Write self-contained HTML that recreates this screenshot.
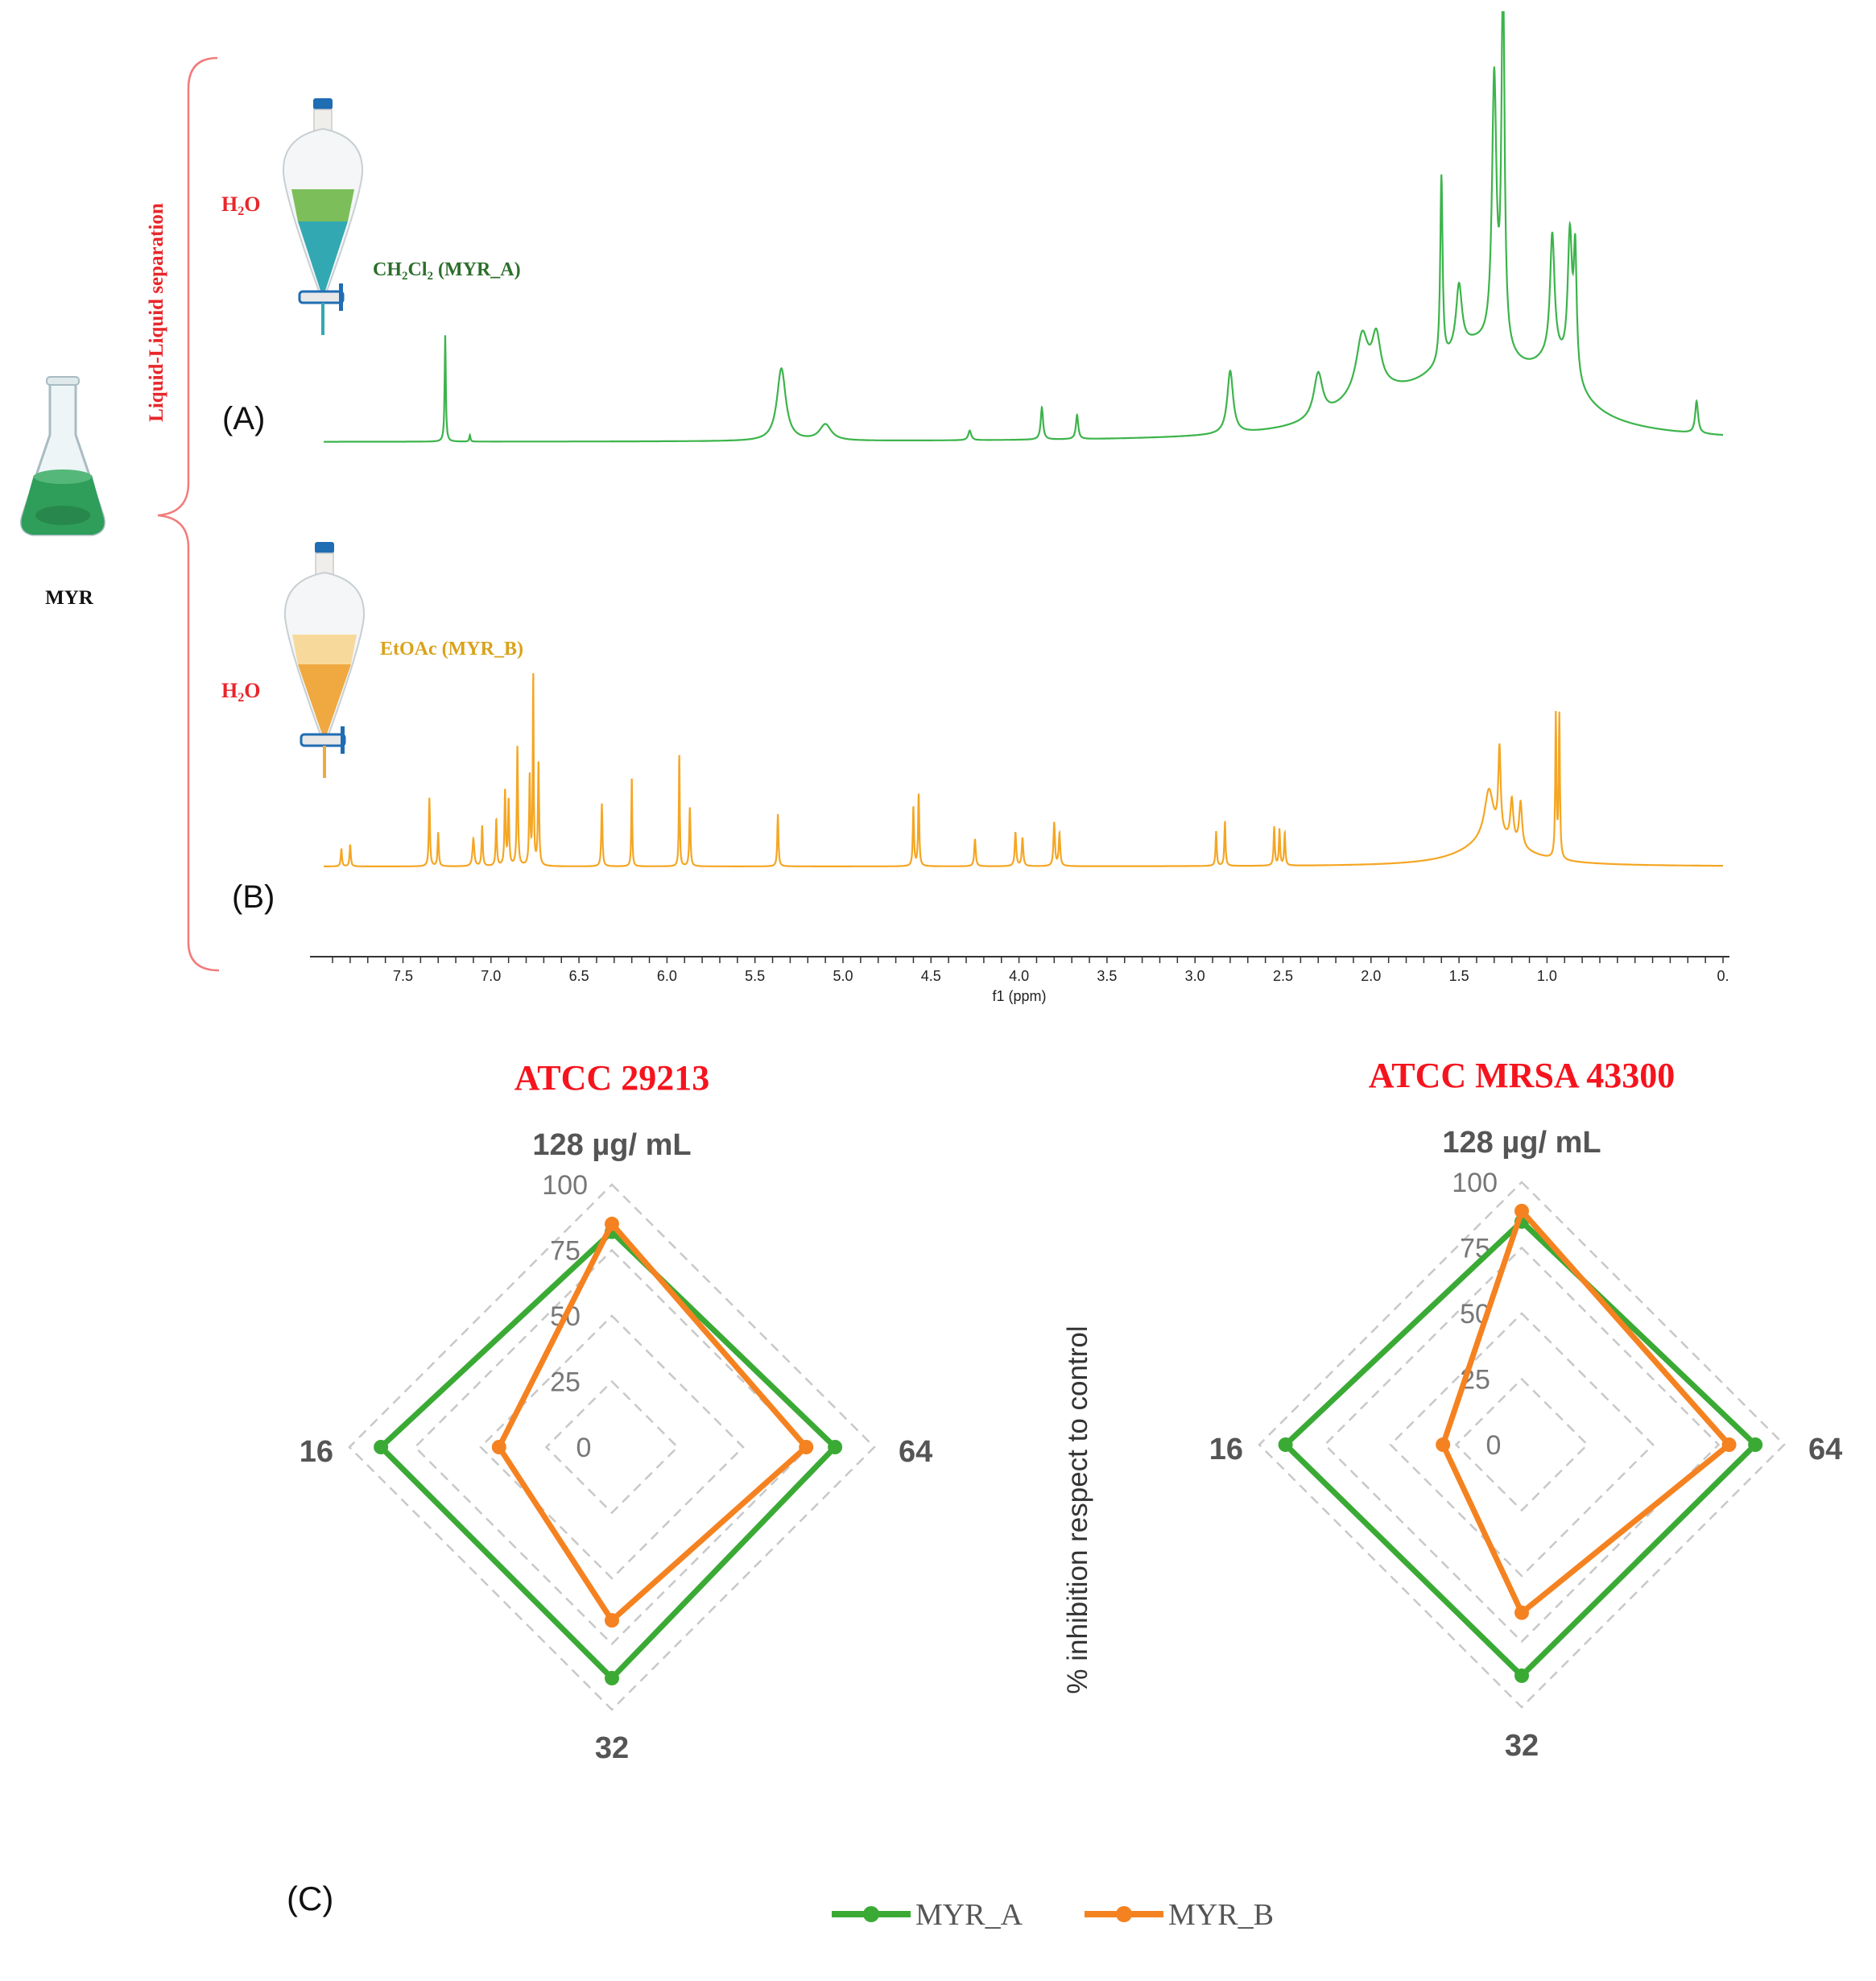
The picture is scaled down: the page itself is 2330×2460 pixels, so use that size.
<!DOCTYPE html>
<html><head><meta charset="utf-8"><style>
html,body{margin:0;padding:0;background:#fff;}
svg{display:block;}
</style></head><body>
<svg id="fig" width="2330" height="2460" viewBox="0 0 2330 2460" xmlns="http://www.w3.org/2000/svg">
  <g>
    <path d="M62 475 L94 475 L94 540 L128 640 Q134 660 115 664 L40 664 Q22 660 28 640 L62 540 Z" fill="#eef5f7" stroke="#a9bcc2" stroke-width="3"/>
    <rect x="58" y="468" width="40" height="10" rx="4" fill="#dfe9ec" stroke="#a9bcc2" stroke-width="2"/>
    <path d="M42 590 L114 590 L128 640 Q134 660 115 664 L40 664 Q22 660 28 640 Z" fill="#2e9e5a"/>
    <ellipse cx="78" cy="592" rx="36" ry="9" fill="#55b87a"/>
    <ellipse cx="78" cy="640" rx="34" ry="12" fill="#28874c"/>
  </g>
  <text x="86" y="750" font-family="Liberation Serif, serif" font-size="25" font-weight="bold" text-anchor="middle" fill="#111">MYR</text>
  <path d="M270 72 Q234 72 234 110 L234 600 Q234 637 196 640 Q234 643 234 680 L234 1170 Q234 1205 272 1205" fill="none" stroke="#f27b7b" stroke-width="2.5"/>
  <text transform="translate(202,388) rotate(-90)" font-family="Liberation Serif, serif" font-size="25" font-weight="bold" fill="#e8262a" text-anchor="middle">Liquid-Liquid separation</text>

  <g>
    <rect x="389" y="122" width="24" height="14" rx="3" fill="#1f6db3"/>
    <rect x="390" y="136" width="22" height="26" fill="#f0eeea" stroke="#ccc" stroke-width="1.5"/>
    <path d="M401 160 Q350 170 352 215 Q355 250 401 375 Q447 250 450 215 Q452 170 401 160 Z" fill="#f4f6f7" stroke="#c8cfd2" stroke-width="2"/>
    <path d="M362 235 L440 235 L432 275 L370 275 Z" fill="#7cbf5a"/>
    <path d="M370 275 L432 275 L401 370 Z" fill="#32a8b2"/>
    <rect x="372" y="362" width="54" height="14" rx="4" fill="#e8e8e8" stroke="#1f6db3" stroke-width="3"/>
    <rect x="421" y="352" width="5" height="34" fill="#1f6db3"/>
    <rect x="399" y="376" width="4" height="40" fill="#32a8b2"/>
  </g>
  <text x="275" y="262" font-family="Liberation Serif, serif" font-size="26" font-weight="bold" fill="#e8262a">H<tspan font-size="16" dy="5">2</tspan><tspan dy="-5">O</tspan></text>
  <text x="463" y="342" font-family="Liberation Serif, serif" font-size="24" font-weight="bold" fill="#2c6e2c">CH<tspan font-size="15" dy="5">2</tspan><tspan dy="-5">Cl</tspan><tspan font-size="15" dy="5">2</tspan><tspan dy="-5"> (MYR_A)</tspan></text>
  <text x="276" y="533" font-family="Liberation Sans, sans-serif" font-size="40" fill="#111">(A)</text>

  <g>
    <rect x="391" y="673" width="24" height="14" rx="3" fill="#1f6db3"/>
    <rect x="392" y="687" width="22" height="26" fill="#f0eeea" stroke="#ccc" stroke-width="1.5"/>
    <path d="M403 711 Q352 721 354 766 Q357 801 403 926 Q449 801 452 766 Q454 721 403 711 Z" fill="#f4f6f7" stroke="#c8cfd2" stroke-width="2"/>
    <path d="M363 788 L443 788 L436 825 L370 825 Z" fill="#f8d99c"/>
    <path d="M370 825 L436 825 L403 920 Z" fill="#f0a840"/>
    <rect x="374" y="912" width="54" height="14" rx="4" fill="#e8e8e8" stroke="#1f6db3" stroke-width="3"/>
    <rect x="423" y="902" width="5" height="34" fill="#1f6db3"/>
    <rect x="401" y="926" width="4" height="40" fill="#f0a840"/>
  </g>
  <text x="275" y="866" font-family="Liberation Serif, serif" font-size="26" font-weight="bold" fill="#e8262a">H<tspan font-size="16" dy="5">2</tspan><tspan dy="-5">O</tspan></text>
  <text x="472" y="813" font-family="Liberation Serif, serif" font-size="24" font-weight="bold" fill="#d9a21a">EtOAc (MYR_B)</text>
  <text x="288" y="1127" font-family="Liberation Sans, sans-serif" font-size="40" fill="#111">(B)</text>

  <g id="nmr"></g>
  <g id="radars"></g>

  <text transform="translate(1350,1875) rotate(-90)" font-family="Liberation Sans, sans-serif" font-size="35" fill="#333" text-anchor="middle">% inhibition respect to control</text>
  <text x="356" y="2372" font-family="Liberation Sans, sans-serif" font-size="42" fill="#111">(C)</text>

  <g>
    <g>
      <line x1="1033" y1="2377" x2="1131" y2="2377" stroke="#3aaa35" stroke-width="8"/>
      <circle cx="1082" cy="2377" r="10" fill="#3aaa35"/>
      <text x="1137" y="2390" font-family="Liberation Serif, serif" font-size="38" fill="#555">MYR_A</text>
    </g>
    <g>
      <line x1="1347" y1="2377" x2="1445" y2="2377" stroke="#f58220" stroke-width="8"/>
      <circle cx="1396" cy="2377" r="10" fill="#f58220"/>
      <text x="1451" y="2390" font-family="Liberation Serif, serif" font-size="38" fill="#555">MYR_B</text>
    </g>
  </g>
</svg>
<script>
// ---------- NMR data ----------
const ppmTicks = [7.5,7.0,6.5,6.0,5.5,5.0,4.5,4.0,3.5,3.0,2.5,2.0,1.5,1.0,0];
const tickLabels = ["7.5","7.0","6.5","6.0","5.5","5.0","4.5","4.0","3.5","3.0","2.5","2.0","1.5","1.0","0."];
const peaksA_ppm = [7.26,7.12,5.35,5.10,4.28,3.87,3.67,2.80,2.30,2.05,1.97,1.60,1.50,1.30,1.25,0.97,0.87,0.84,0.15,1.40,0.95,2.00];
const peaksA_h   = [132,8,90,20,12,40,30,78,55,70,60,230,80,330,480,150,170,150,40,110,60,35];
const peaksA_w   = [0.004,0.004,0.03,0.04,0.01,0.008,0.008,0.02,0.03,0.04,0.03,0.008,0.02,0.015,0.01,0.015,0.015,0.01,0.01,0.35,0.15,0.25];
const peaksB_ppm = [7.85,7.80,7.35,7.30,7.10,7.05,6.97,6.92,6.90,6.85,6.78,6.76,6.73,6.37,6.20,5.93,5.87,5.37,4.60,4.57,4.25,4.02,3.98,3.80,3.77,2.88,2.83,2.55,2.52,2.49,1.33,1.27,1.20,1.15,0.95,0.93,1.30];
const peaksB_h   = [22,27,85,42,34,50,57,92,80,148,110,233,127,78,109,138,73,65,73,89,34,42,35,54,40,42,54,48,45,40,60,105,52,55,177,177,35];
const peaksB_w   = [0.004,0.004,0.004,0.004,0.006,0.004,0.004,0.004,0.004,0.004,0.004,0.003,0.004,0.004,0.003,0.003,0.004,0.004,0.004,0.004,0.005,0.005,0.005,0.005,0.005,0.004,0.004,0.004,0.004,0.004,0.03,0.008,0.01,0.01,0.004,0.004,0.2];

// ---------- Radar data ----------
const radarAxes = ["128 µg/ mL","64","32","16"];
const radarTicks = [0,25,50,75,100];
const chart1_A = [82,85,88,88];
const chart1_B = [85,74,66,43];
const chart2_A = [85,89,88,90];
const chart2_B = [89,79,64,30];
const chartTitles = ["ATCC 29213","ATCC MRSA 43300"];

const NS = "http://www.w3.org/2000/svg";
function mk(tag, attrs, parent){const e=document.createElementNS(NS,tag);for(const k in attrs)e.setAttribute(k,attrs[k]);if(parent)parent.appendChild(e);return e;}

const X0 = 2140, PXPPM = 218.6;
function xPPM(p){return X0 - p*PXPPM;}
const nmr = document.getElementById('nmr');
function spectrum(pp, hh, ww, base, color, name){
  let d="";
  const pts=[];
  for(let i=0;i<=4000;i++){pts.push(7.95 - i*(7.95)/4000);}
  pp.forEach(p=>pts.push(p));
  pts.sort((a,b)=>b-a);
  pts.forEach((p,i)=>{
    let y=0;
    for(let k=0;k<pp.length;k++){const t=(p-pp[k])/ww[k];y+=hh[k]/(1+t*t);}
    let Y=Math.max(15, base - y);
    d+=(i?"L":"M")+xPPM(p).toFixed(1)+" "+Y.toFixed(1);
  });
  const path=mk('path',{d:d,fill:'none',stroke:color,'stroke-width':2.2},nmr);
  
  
}
spectrum(peaksA_ppm,peaksA_h,peaksA_w,549,'#3cb44b','spectrum-myr-a');
spectrum(peaksB_ppm,peaksB_h,peaksB_w,1076,'#f5a623','spectrum-myr-b');
const ax=mk('line',{x1:385,y1:1188,x2:2148,y2:1188,stroke:'#333','stroke-width':2},nmr);


for(let p=0;p<=7.9;p+=0.1){const x=xPPM(p);mk('line',{x1:x,y1:1188,x2:x,y2:1196,stroke:'#333','stroke-width':1.5},nmr);}
ppmTicks.forEach((p,i)=>{
  const t=mk('text',{x:xPPM(p),y:1218,'font-family':'Liberation Sans, sans-serif','font-size':18,'text-anchor':'middle',fill:'#222'},nmr);
  t.textContent=tickLabels[i];
  
  
});
const xt=mk('text',{x:1266,y:1243,'font-family':'Liberation Sans, sans-serif','font-size':18,'text-anchor':'middle',fill:'#222'},nmr);
xt.textContent='f1 (ppm)';



const radars=document.getElementById('radars');
const R=326;
function drawRadar(cx,cy,title,sA,sB,idx){
  const g=mk('g',{},radars);
  
  
  function pt(k,v){const r=v/100*R;const a=[[0,-1],[1,0],[0,1],[-1,0]][k];return [cx+a[0]*r,cy+a[1]*r];}
  radarTicks.forEach(t=>{
    if(t===0) return;
    const ps=[0,1,2,3].map(k=>pt(k,t));
    const poly=mk('polygon',{points:ps.map(p=>p.join(',')).join(' '),fill:'none',stroke:'#c8c8c8','stroke-width':2.5,'stroke-dasharray':'12 8'},g);
    
    
  });
  radarTicks.forEach(t=>{
    const tx=mk('text',{x:cx-58,y:cy-t/100*R+12,'font-family':'Liberation Sans, sans-serif','font-size':34,'text-anchor':t===100?'end':'middle',fill:'#777'},g);
    if(t===100) tx.setAttribute('x', cx-30);
    if(t===0) tx.setAttribute('x', cx-35);
    tx.textContent=t;
    
    
  });
  [[sA,'#3aaa35','series-myr-a'],[sB,'#f58220','series-myr-b']].forEach(([s,c,n])=>{
    const ps=s.map((v,k)=>pt(k,v));
    const poly=mk('polygon',{points:ps.map(p=>p.join(',')).join(' '),fill:'none',stroke:c,'stroke-width':7,'stroke-linejoin':'round'},g);
    
    
    ps.forEach(p=>{
      const ci=mk('circle',{cx:p[0],cy:p[1],r:9,fill:c},g);
      
      
    });
  });
  const pos=[[cx,cy-R-37,'middle'],[cx+R+30,cy+18,'start'],[cx,cy+R+60,'middle'],[cx-R-20,cy+18,'end']];
  radarAxes.forEach((a,k)=>{
    const t=mk('text',{x:pos[k][0],y:pos[k][1],'font-family':'Liberation Sans, DejaVu Sans, sans-serif','font-size':38,'font-weight':'bold','text-anchor':pos[k][2],fill:'#555'},g);
    t.textContent=a;
    
    
  });
  const tt=mk('text',{x:cx,y:cy-R-118,'font-family':'Liberation Serif, serif','font-size':44,'font-weight':'bold','text-anchor':'middle',fill:'#f5141e'},g);
  tt.textContent=title;
  
  
}
drawRadar(760,1797,chartTitles[0],chart1_A,chart1_B,0);
drawRadar(1890,1794,chartTitles[1],chart2_A,chart2_B,1);
</script>
</body></html>
